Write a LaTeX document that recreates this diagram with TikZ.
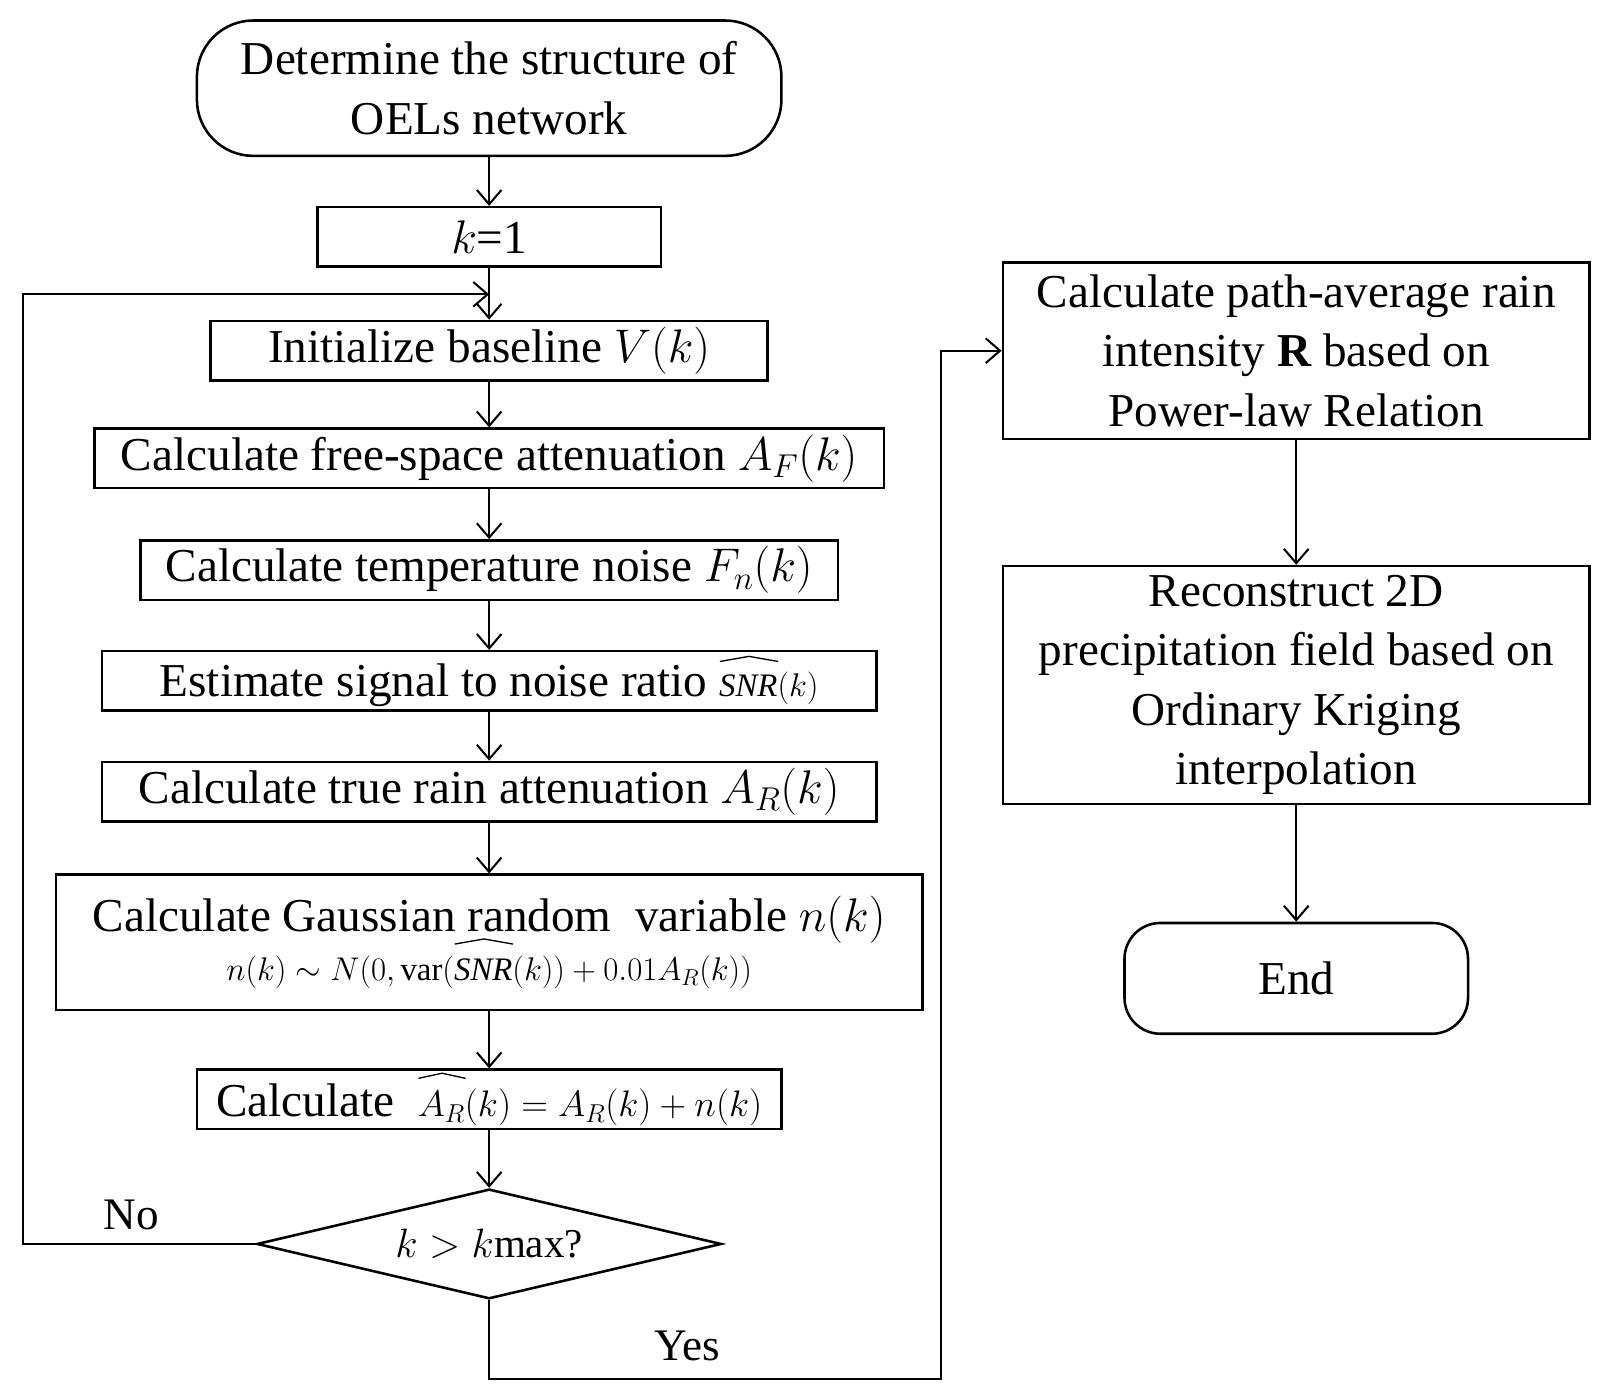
\documentclass[tikz,border=0pt]{standalone}
\usepackage{fix-cm}
\usepackage{fontspec}
\setmainfont{Liberation Serif}
\usetikzlibrary{arrows.meta,shapes.geometric}
\newcommand{\myhat}[1]{\setbox0\hbox{$#1$}\vbox{\hbox to\wd0{\tikz[x=1pt,y=1pt]\draw[line width=1.3pt](0,0)--(0.5\wd0,5pt)--(\wd0,0);}\kern1pt\box0}}
\begin{document}
\begin{tikzpicture}[x=1pt,y=-1pt,
  box/.style={draw,line width=2.5pt,inner sep=0pt,align=center,font=\fontsize{46}{58}\selectfont},
  arr/.style={line width=2pt,-{Straight Barb[length=14pt,width=24pt,line width=2pt]}},
  lab/.style={font=\fontsize{44}{48}\selectfont}]
\useasboundingbox (0,0) rectangle (1568,1365);
\node[box,rounded corners=55pt,minimum width=570pt,minimum height=132pt] (s) at (477,86) {Determine the structure of\\OELs network};
\node[box,minimum width=335pt,minimum height=58pt] (k1) at (477,231) {$k$=1};
\node[box,minimum width=543pt,minimum height=58pt] (ini) at (477,342) {Initialize baseline $V(k)$};
\node[box,minimum width=770pt,minimum height=58pt] (fs) at (477,447) {Calculate free-space attenuation $A_{F}(k)$};
\node[box,minimum width=680pt,minimum height=58pt] (tn) at (477,556) {Calculate temperature noise $F_{n}(k)$};
\node[box,minimum width=755pt,minimum height=58pt] (es) at (477,664) {Estimate signal to noise ratio {\fontsize{32}{32}\selectfont\myhat{\mathit{SNR}}$(k)$}};
\node[box,minimum width=755pt,minimum height=58pt] (tr) at (477,772) {Calculate true rain attenuation $A_{R}(k)$};
\node[box,minimum width=845pt,minimum height=132pt] (ga) at (477,919) {Calculate Gaussian random \ variable $n(k)$\\[-10pt]{\fontsize{32}{34}\selectfont$n(k)\sim N(0,\mathrm{var}($\myhat{\mathit{SNR}}$(k))+0.01A_R(k))$}};
\node[box,minimum width=570pt,minimum height=58pt] (ch) at (477,1072) {Calculate \ {\fontsize{36}{36}\selectfont\myhat{A_R}$(k)=A_R(k)+n(k)$}};
\node[draw,line width=2.5pt,diamond,aspect=4.2,minimum width=453pt,minimum height=107pt,inner sep=0pt,font=\fontsize{40}{44}\selectfont] (d) at (477,1213) {$k>k$max?};
\node[box,minimum width=572pt,minimum height=172pt] (r1) at (1264,342) {Calculate path-average rain\\intensity \textbf{R} based on\\Power-law Relation};
\node[box,minimum width=572pt,minimum height=232pt] (r2) at (1264,668) {Reconstruct 2D\\precipitation field based on\\Ordinary Kriging\\interpolation};
\node[box,rounded corners=35pt,minimum width=335pt,minimum height=108pt] (e) at (1264,954) {End};
\draw[arr] (s) -- (k1);
\draw[arr] (k1) -- (ini);
\draw[arr] (ini) -- (fs);
\draw[arr] (fs) -- (tn);
\draw[arr] (tn) -- (es);
\draw[arr] (es) -- (tr);
\draw[arr] (tr) -- (ga);
\draw[arr] (ga) -- (ch);
\draw[arr] (ch) -- (d);
\coordinate (lp) at (477,287);
\draw[arr] (d.west) -- (22,1213) -- (22,287) -- (lp);
\draw[arr] (d.south) -- (477,1345) -- (918,1345) -- (918,342) -- (r1.west);
\draw[arr] (r1) -- (r2);
\draw[arr] (r2) -- (e);
\node[lab] (no) at (128,1185) {No};
\node[lab] (yes) at (670,1312) {Yes};
\end{tikzpicture}
\end{document}
